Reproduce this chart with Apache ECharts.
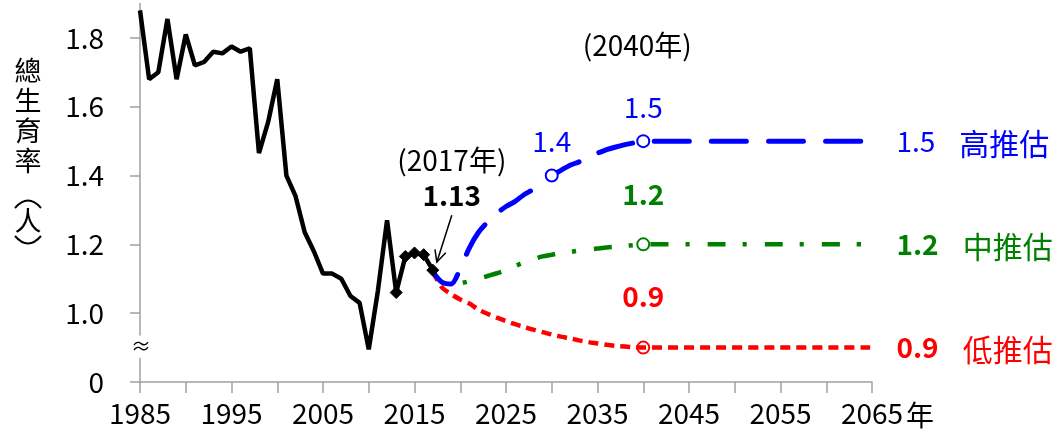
<!DOCTYPE html>
<html>
<head>
<meta charset="utf-8">
<script src="https://cdn.jsdelivr.net/npm/echarts@6/dist/echarts.min.js"></script>
<style>
html,body{margin:0;padding:0;background:#fff;}
#main{width:1059px;height:432px;}
</style>
</head>
<body>
<div id="main"></div>
<script>
// ---- data ----
const histYears = [1985,1986,1987,1988,1989,1990,1991,1992,1993,1994,1995,1996,1997,1998,1999,2000,2001,2002,2003,2004,2005,2006,2007,2008,2009,2010,2011,2012,2013,2014,2015,2016,2017];
const histValues = [1.88,1.68,1.70,1.855,1.68,1.81,1.72,1.73,1.76,1.755,1.775,1.76,1.77,1.465,1.555,1.68,1.40,1.34,1.235,1.18,1.115,1.115,1.10,1.05,1.03,0.895,1.065,1.27,1.06,1.165,1.175,1.17,1.125];
const diamondYears = [2013,2014,2015,2016,2017];

const projYears = [2017,2018,2019,2020,2021,2022,2023,2024,2025,2026,2027,2028,2029,2030,2031,2032,2033,2034,2035,2036,2037,2038,2039,2040,2065];
const highValues = [1.12,1.09,1.085,1.13,1.19,1.235,1.265,1.29,1.31,1.325,1.345,1.36,1.38,1.40,1.415,1.43,1.44,1.455,1.465,1.475,1.483,1.49,1.495,1.50,1.50];
const midValues  = [1.12,1.09,1.085,1.087,1.093,1.10,1.108,1.116,1.125,1.137,1.148,1.157,1.165,1.17,1.175,1.178,1.182,1.185,1.188,1.191,1.193,1.195,1.198,1.20,1.20];
const lowValues  = [1.12,1.075,1.055,1.04,1.028,1.01,0.998,0.987,0.977,0.968,0.96,0.952,0.945,0.938,0.932,0.927,0.921,0.916,0.912,0.908,0.905,0.903,0.901,0.90,0.90];

const xLabelYears = [1985,1995,2005,2015,2025,2035,2045,2055,2065];
const yTickValues = [0.8,1.0,1.2,1.4,1.6,1.8];   // 0.8 position is shown as "0" (axis break)
const scenarioNames = ['高推估','中推估','低推估'];
const markedYearsHigh = [2030, 2040];
const markedYearsOther = [2040];

const FONT = 'Noto Sans CJK TC';
const BLUE = '#0000FF', GREEN = '#008000', RED = '#FF0000';

function projSeries(values, color, name, markedYears, labelDist, bold, lineStyle, markerFill) {
  const last = projYears.length - 1;
  const data = projYears.map((yr, i) => {
    const item = { value: [yr, values[i]] };
    if (markedYears.includes(yr)) {
      item.symbol = 'circle';
      item.symbolSize = 12;
      item.itemStyle = { color: markerFill, borderColor: color, borderWidth: 2 };
      item.label = {
        show: true, position: 'top', distance: labelDist,
        formatter: values[i].toFixed(1),
        color: color, fontSize: 28, fontFamily: FONT, fontWeight: bold ? 'bold' : 'normal'
      };
    }
    if (i === last) {
      item.symbol = 'circle';
      item.symbolSize = 1;
      item.itemStyle = { color: 'rgba(0,0,0,0)', borderWidth: 0 };
      item.label = {
        show: true, position: 'right', distance: 24,
        formatter: '{v|' + values[i].toFixed(1) + '}{n|' + name + '}',
        rich: {
          v: { color: color, fontSize: 28, fontFamily: FONT, fontWeight: bold ? 'bold' : 'normal' },
          n: { color: color, fontSize: 30, fontFamily: FONT, padding: [4, 0, 0, 24] }
        }
      };
    }
    return item;
  });
  return {
    type: 'line', name: name, data: data, symbol: 'none', smooth: 0.3,
    lineStyle: Object.assign({ color: color }, lineStyle),
    itemStyle: { color: color }, z: 2, animation: false, clip: false
  };
}

const histData = histYears.map((yr, i) => {
  const item = { value: [yr, histValues[i]] };
  if (diamondYears.includes(yr)) {
    item.symbol = 'diamond';
    item.symbolSize = 12;
    item.itemStyle = { color: '#000', borderColor: '#000' };
  }
  if (yr === 2017) {
    item.label = {
      show: true, position: 'top', distance: 5, offset: [19, -46],
      formatter: '{a|(2017年)}\n{b|1.13}',
      rich: {
        a: { fontSize: 28, fontFamily: FONT, color: '#000', lineHeight: 35 },
        b: { fontSize: 28, fontFamily: FONT, color: '#000', fontWeight: 'bold', lineHeight: 35 }
      }
    };
  }
  return item;
});

const option = {
  backgroundColor: '#fff',
  animation: false,
  grid: { left: 140, right: 187, top: 3.5, bottom: 50, containLabel: false, outerBoundsMode: 'none' },
  xAxis: {
    type: 'value', min: 1985, max: 2065, interval: 5,
    axisLine: { show: true, lineStyle: { color: '#a0a0a0', width: 1.5 } },
    axisTick: { show: true, length: 11, lineStyle: { color: '#a0a0a0', width: 1.5 } },
    axisLabel: { customValues: xLabelYears, margin: 17, color: '#000', fontSize: 28, fontFamily: FONT,
      formatter: v => String(v) },
    splitLine: { show: false }
  },
  yAxis: {
    type: 'value', min: 0.8, max: 1.9,
    axisLine: { show: true, lineStyle: { color: '#a0a0a0', width: 1.5 } },
    axisTick: { show: true, length: 10, customValues: yTickValues, lineStyle: { color: '#a0a0a0', width: 1.5 } },
    axisLabel: { customValues: yTickValues, margin: 36, color: '#000', fontSize: 28, fontFamily: FONT,
      formatter: v => (Math.abs(v - 0.8) < 1e-6 ? '0' : v.toFixed(1)) },
    splitLine: { show: false }
  },
  series: [
    projSeries(lowValues, RED, scenarioNames[2], markedYearsOther, 30, true,
      { width: 4.5, type: [10, 6] }, 'rgba(255,255,255,0)'),
    projSeries(midValues, GREEN, scenarioNames[1], markedYearsOther, 29, true,
      { width: 4.5, type: [18, 17, 4, 18] }, '#fff'),
    projSeries(highValues, BLUE, scenarioNames[0], markedYearsHigh, 13, false,
      { width: 5, type: [35, 22], cap: 'round' }, '#fff'),
    {
      type: 'line', data: histData, symbol: 'none', z: 5,
      lineStyle: { color: '#000', width: 4.5 }, itemStyle: { color: '#000' }, animation: false
    }
  ]
};

const chart = echarts.init(document.getElementById('main'), null, { renderer: 'canvas' });
chart.setOption(option);

// annotations anchored to data positions
const toPx = (pt) => chart.convertToPixel({ xAxisIndex: 0, yAxisIndex: 0 }, pt);
const p2017 = toPx([2017, histValues[histYears.indexOf(2017)]]);
const p2040top = toPx([2040, 1.79]);
const pEnd = toPx([2065, 0.8]);
const origin = toPx([1985, 0.8]);
const brkTop = toPx([1985, 0.935]);
const brkBot = toPx([1985, 0.87]);

const tip = [p2017[0] + 4, p2017[1] - 8];
const tail = [p2017[0] + 19, p2017[1] - 55];
const dx = tail[0] - tip[0], dy = tail[1] - tip[1];
const len = Math.hypot(dx, dy);
const ux = dx / len, uy = dy / len;
function rot(a) { const c = Math.cos(a), s = Math.sin(a); return [ux * c - uy * s, ux * s + uy * c]; }
const h1 = rot(0.45), h2 = rot(-0.45);
const HL = 13;

const nameFont = '27px "' + FONT + '"';
chart.setOption({
  graphic: [
    // y axis title (vertical)
    { type: 'text', x: 28, y: 56, style: {
        text: '總\n生\n育\n率', font: nameFont, fill: '#000',
        align: 'center', verticalAlign: 'top', lineHeight: 30 } },
    { type: 'bezierCurve', shape: { x1: 15, y1: 208, x2: 41, y2: 208, cpx1: 28, cpy1: 193 },
      style: { stroke: '#000', lineWidth: 2, fill: null } },
    { type: 'text', x: 28, y: 221, style: {
        text: '人', font: nameFont, fill: '#000', align: 'center', verticalAlign: 'middle' } },
    { type: 'bezierCurve', shape: { x1: 15, y1: 236, x2: 41, y2: 236, cpx1: 28, cpy1: 251 },
      style: { stroke: '#000', lineWidth: 2, fill: null } },
    // axis break
    { type: 'rect', shape: { x: origin[0] - 5, y: brkTop[1], width: 10, height: brkBot[1] - brkTop[1] },
      style: { fill: '#fff' }, z: 100 },
    { type: 'text', x: origin[0] + 1, y: (brkTop[1] + brkBot[1]) / 2, z: 101,
      style: { text: '≈', font: '20px "' + FONT + '"', fill: '#000', align: 'center', verticalAlign: 'middle' } },
    // (2040年)
    { type: 'text', x: p2040top[0] - 6, y: p2040top[1] + 4, style: {
        text: '(2040年)', font: '28px "' + FONT + '"', fill: '#000', align: 'center', verticalAlign: 'middle' } },
    // x axis unit
    { type: 'text', x: pEnd[0] + 34, y: pEnd[1] + 33, style: {
        text: '年', font: '28px "' + FONT + '"', fill: '#000', align: 'left', verticalAlign: 'middle' } },
    // arrow
    { type: 'line', shape: { x1: tail[0], y1: tail[1], x2: tip[0], y2: tip[1] }, style: { stroke: '#000', lineWidth: 1.5 }, z: 50 },
    { type: 'polyline', shape: { points: [
        [tip[0] + h1[0] * HL, tip[1] + h1[1] * HL], tip, [tip[0] + h2[0] * HL, tip[1] + h2[1] * HL] ] },
      style: { stroke: '#000', lineWidth: 1.5, fill: null }, z: 50 }
  ]
});
</script>
</body>
</html>
